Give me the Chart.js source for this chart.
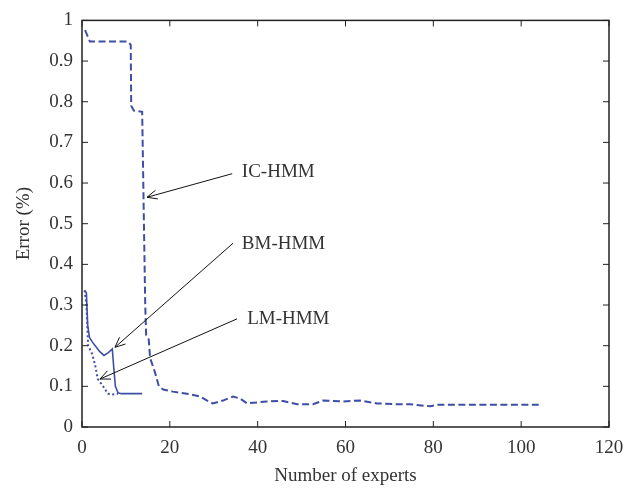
<!DOCTYPE html>
<html>
<head>
<meta charset="utf-8">
<script src="https://cdn.jsdelivr.net/npm/chart.js@4"></script>
<style>
  html, body { margin: 0; background: #fff; }
  #wrap { width: 638px; height: 490px; }
</style>
</head>
<body>
<div id="wrap"><canvas id="chart"></canvas></div>
<script>
// IC-HMM (dashed)
var icX = [0.7, 1.8, 10.5, 11.1, 11.2, 11.8, 13.7, 13.9, 14.1, 14.4, 14.6, 15.2, 15.5, 16.6, 17.5, 18.5, 20.7, 23.9, 26.9, 28.5, 29.8, 32.1, 34.4, 36, 37.6, 42.1, 45.8, 49, 52.6, 54.9, 59.5, 63.3, 67.2, 71.8, 74.7, 78, 79.3, 80.9, 104];
var icY = [0.976, 0.948, 0.948, 0.94, 0.79, 0.778, 0.775, 0.64, 0.5, 0.3, 0.227, 0.215, 0.17, 0.135, 0.1, 0.092, 0.087, 0.082, 0.075, 0.065, 0.058, 0.065, 0.075, 0.07, 0.058, 0.063, 0.064, 0.056, 0.056, 0.065, 0.063, 0.065, 0.058, 0.056, 0.056, 0.052, 0.051, 0.055, 0.055];
// BM-HMM (solid)
var bmX = [0.6, 1.0, 1.3, 1.7, 2.3, 3, 4, 5, 6, 6.9, 7.2, 7.6, 8.2, 9, 13.7];
var bmY = [0.336, 0.33, 0.25, 0.22, 0.21, 0.2, 0.186, 0.176, 0.183, 0.192, 0.15, 0.1, 0.084, 0.082, 0.082];
// LM-HMM (dotted)
var lmX = [0.6, 1.0, 1.4, 2.3, 3.0, 3.6, 4.8, 5.9, 7.1, 8.2];
var lmY = [0.336, 0.3, 0.2, 0.18, 0.152, 0.118, 0.1, 0.082, 0.08, 0.082];

// annotations, in data units
var annText = ['IC-HMM', 'BM-HMM', 'LM-HMM'];
var annTextX = [36.4, 36.4, 37.6];
var annTextY = [0.626, 0.449, 0.266];
var arrowFromX = [34.2, 34.4, 35.3];
var arrowFromY = [0.623, 0.452, 0.266];
var arrowToX = [14.8, 7.5, 4.1];
var arrowToY = [0.565, 0.196, 0.118];

var blue = '#3e4ea6';
var ink = '#222';
var fontFamily = '"Liberation Serif", "Times New Roman", serif';
var fontSize = 19;

function pts(xs, ys) {
  return xs.map((x, i) => ({ x: x, y: ys[i] }));
}

// box with inward ticks on all four sides + arrows/labels
var boxPlugin = {
  id: 'box',
  afterDatasetsDraw(chart) {
    var ctx = chart.ctx, a = chart.chartArea;
    var xs = chart.scales.x, ys = chart.scales.y;
    var tl = 6;
    ctx.save();
    ctx.strokeStyle = ink;
    ctx.lineWidth = 1.5;
    ctx.strokeRect(a.left, a.top, a.right - a.left, a.bottom - a.top);
    ctx.lineWidth = 1;
    ctx.beginPath();
    xs.ticks.forEach(t => {
      var px = xs.getPixelForValue(t.value);
      ctx.moveTo(px, a.bottom); ctx.lineTo(px, a.bottom - tl);
      ctx.moveTo(px, a.top); ctx.lineTo(px, a.top + tl);
    });
    ys.ticks.forEach(t => {
      var py = ys.getPixelForValue(t.value);
      ctx.moveTo(a.left, py); ctx.lineTo(a.left + tl, py);
      ctx.moveTo(a.right, py); ctx.lineTo(a.right - tl, py);
    });
    ctx.stroke();

    // arrows
    ctx.strokeStyle = '#111';
    ctx.lineWidth = 1;
    for (var i = 0; i < annText.length; i++) {
      var x1 = xs.getPixelForValue(arrowFromX[i]), y1 = ys.getPixelForValue(arrowFromY[i]);
      var x2 = xs.getPixelForValue(arrowToX[i]), y2 = ys.getPixelForValue(arrowToY[i]);
      var ang = Math.atan2(y2 - y1, x2 - x1);
      var hl = 11, hw = 0.42;
      ctx.beginPath();
      ctx.moveTo(x1, y1); ctx.lineTo(x2, y2);
      ctx.moveTo(x2 - hl * Math.cos(ang - hw), y2 - hl * Math.sin(ang - hw));
      ctx.lineTo(x2, y2);
      ctx.lineTo(x2 - hl * Math.cos(ang + hw), y2 - hl * Math.sin(ang + hw));
      ctx.stroke();
    }
    ctx.fillStyle = '#333';
    ctx.font = fontSize + 'px ' + fontFamily;
    ctx.textAlign = 'left';
    ctx.textBaseline = 'middle';
    for (var j = 0; j < annText.length; j++) {
      ctx.fillText(annText[j], xs.getPixelForValue(annTextX[j]), ys.getPixelForValue(annTextY[j]));
    }
    ctx.restore();
  }
};

var ctx = document.getElementById('chart').getContext('2d');
var myChart = new Chart(ctx, {
  type: 'line',
  data: {
    datasets: [
      {
        label: 'IC-HMM',
        data: pts(icX, icY),
        borderColor: blue,
        borderWidth: 2,
        borderDash: [7, 3.5],
        pointRadius: 0,
        fill: false,
      },
      {
        label: 'BM-HMM',
        data: pts(bmX, bmY),
        borderColor: blue,
        borderWidth: 1.6,
        pointRadius: 0,
        fill: false,
      },
      {
        label: 'LM-HMM',
        data: pts(lmX, lmY),
        borderColor: blue,
        borderWidth: 2,
        borderDash: [2, 2.5],
        pointRadius: 0,
        fill: false,
      }
    ]
  },
  options: {
    responsive: true,
    maintainAspectRatio: false,
    animation: false,
    layout: { padding: { top: 12, right: 29, left: 0, bottom: 0 } },
    plugins: {
      legend: { display: false },
      tooltip: { enabled: false }
    },
    elements: { line: { tension: 0 } },
    scales: {
      x: {
        type: 'linear',
        min: 0,
        max: 120,
        ticks: {
          stepSize: 20,
          padding: 10,
          color: '#333',
          font: { family: fontFamily, size: fontSize }
        },
        grid: { display: false, drawTicks: false },
        border: { display: false },
        title: {
          display: true,
          text: 'Number of experts',
          color: '#333',
          font: { family: fontFamily, size: fontSize },
          padding: { top: 0, bottom: 3 }
        },
        afterFit(scale) { scale.height = 63; }
      },
      y: {
        min: 0,
        max: 1,
        ticks: {
          stepSize: 0.1,
          padding: 9,
          color: '#333',
          font: { family: fontFamily, size: fontSize },
          callback: v => String(+v.toFixed(1))
        },
        grid: { display: false, drawTicks: false },
        border: { display: false },
        title: {
          display: true,
          text: 'Error (%)',
          color: '#333',
          font: { family: fontFamily, size: fontSize },
          padding: { top: 13, bottom: 0 }
        },
        afterFit(scale) { scale.width = 82; }
      }
    }
  },
  plugins: [boxPlugin]
});
</script>
</body>
</html>
